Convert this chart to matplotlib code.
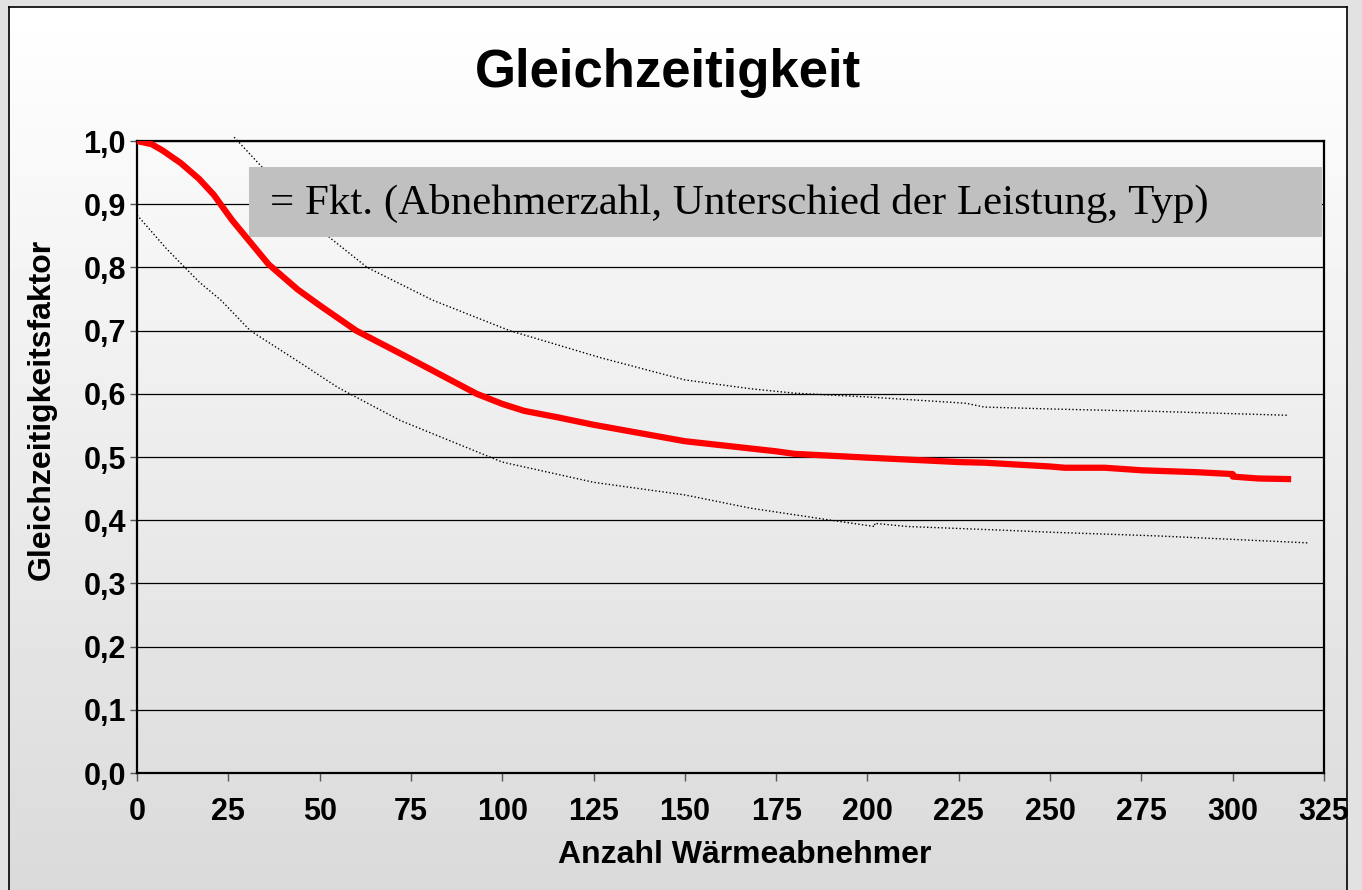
import numpy as np
import matplotlib
matplotlib.use("Agg")
import matplotlib.pyplot as plt
from matplotlib.patches import Rectangle

# red main curve
red_x = [0, 4, 7, 12, 17, 21, 26, 29, 36, 44, 50, 60, 74, 93, 100, 106, 115, 125,
         150, 175, 180, 200, 225, 232, 250, 254, 265, 275, 290, 300, 300, 307, 316]
red_y = [1.0, 0.995, 0.985, 0.965, 0.94, 0.915, 0.875, 0.854, 0.805, 0.765, 0.74, 0.70,
         0.658, 0.60, 0.584, 0.573, 0.563, 0.551, 0.525, 0.509, 0.505, 0.499, 0.492,
         0.491, 0.485, 0.483, 0.483, 0.479, 0.476, 0.473, 0.469, 0.466, 0.465]

# upper dotted bound
up_x = [26.6, 30, 33.7, 40, 46, 52.8, 63, 81, 102, 127, 150, 168, 180, 200, 227, 232,
        250, 280, 315]
up_y = [1.006, 0.985, 0.962, 0.925, 0.885, 0.847, 0.80, 0.748, 0.70, 0.657, 0.622,
        0.608, 0.601, 0.595, 0.585, 0.579, 0.576, 0.572, 0.566]

# lower dotted bound
lo_x = [0, 8, 17, 23, 31, 45, 55, 72, 100, 125, 150, 168, 190, 202, 202, 211, 238,
        250, 280, 321]
lo_y = [0.883, 0.83, 0.777, 0.748, 0.70, 0.648, 0.61, 0.558, 0.492, 0.46, 0.44,
        0.419, 0.40, 0.39, 0.395, 0.39, 0.384, 0.381, 0.375, 0.364]

x_ticks = list(range(0, 326, 25))
y_ticks = [i / 10 for i in range(11)]

title = "Gleichzeitigkeit"
x_label = "Anzahl Wärmeabnehmer"
y_label = "Gleichzeitigkeitsfaktor"
box_text = "= Fkt. (Abnehmerzahl, Unterschied der Leistung, Typ)"

plt.rcParams['font.family'] = ['Liberation Sans', 'DejaVu Sans']

W, H = 1362, 890
fig = plt.figure(figsize=(W / 100, H / 100), dpi=100)
fig.patch.set_facecolor('#e2e2e2')

# panel with vertical gradient, white at top, grey at bottom
bg = fig.add_axes([9 / W, 0, (1347 - 9) / W, (H - 7) / H])
grad = np.linspace(1.0, 0.855, 256).reshape(-1, 1)
bg.imshow(grad, cmap='gray', vmin=0, vmax=1, aspect='auto',
          extent=[0, 1, 0, 1], origin='lower')
bg.set_xlim(0, 1)
bg.set_ylim(1, 0)
bg.set_xticks([])
bg.set_yticks([])
for s in bg.spines.values():
    s.set_color('black')
    s.set_linewidth(1.2)
bg.spines['bottom'].set_visible(False)

ax = fig.add_axes([137 / W, (H - 773) / H, (1324 - 137) / W, (773 - 141) / H])
ax.patch.set_alpha(0)

ax.plot(up_x, up_y, color='black', lw=1.0, ls=(0, (1, 1.6)), zorder=2, clip_on=False)
ax.plot(lo_x, lo_y, color='black', lw=1.0, ls=(0, (1, 1.6)), zorder=2)
ax.add_patch(Rectangle((30.7, 0.848), 324.5 - 30.7, 0.111, facecolor='#c0c0c0',
                       edgecolor='none', zorder=3))
ax.text(36.5, 0.9015, box_text, family=['Liberation Serif', 'DejaVu Serif'],
        fontsize=31, va='center', ha='left', zorder=4)
ax.plot(red_x, red_y, color='#ff0000', lw=4.5, zorder=5, solid_capstyle='butt')

ax.set_xlim(0, 325)
ax.set_ylim(0, 1.0)
ax.set_xticks(x_ticks)
ax.set_yticks(y_ticks)
ax.set_xticklabels([str(t) for t in x_ticks])
ax.set_yticklabels([f"{t:.1f}".replace('.', ',') for t in y_ticks])
ax.tick_params(axis='x', length=6, width=1, color='#555555', pad=11, labelsize=22)
ax.tick_params(axis='y', length=5, width=1, color='#555555', pad=3, labelsize=22)
for lab in ax.get_xticklabels() + ax.get_yticklabels():
    lab.set_fontweight('bold')
ax.grid(axis='y', color='black', lw=0.9, zorder=1)
ax.set_axisbelow(True)
for s in ax.spines.values():
    s.set_color('black')
    s.set_linewidth(1.6)

fig.text(668 / W, 1 - 73 / H, title, fontsize=38, fontweight='bold',
         ha='center', va='center')
fig.text(745 / W, 1 - 855 / H, x_label, fontsize=23, fontweight='bold',
         ha='center', va='center')
fig.text(42 / W, 1 - 409 / H, y_label, fontsize=23, fontweight='bold',
         ha='center', va='center', rotation=90)

fig.savefig("out.png", dpi=100, facecolor=fig.get_facecolor())
